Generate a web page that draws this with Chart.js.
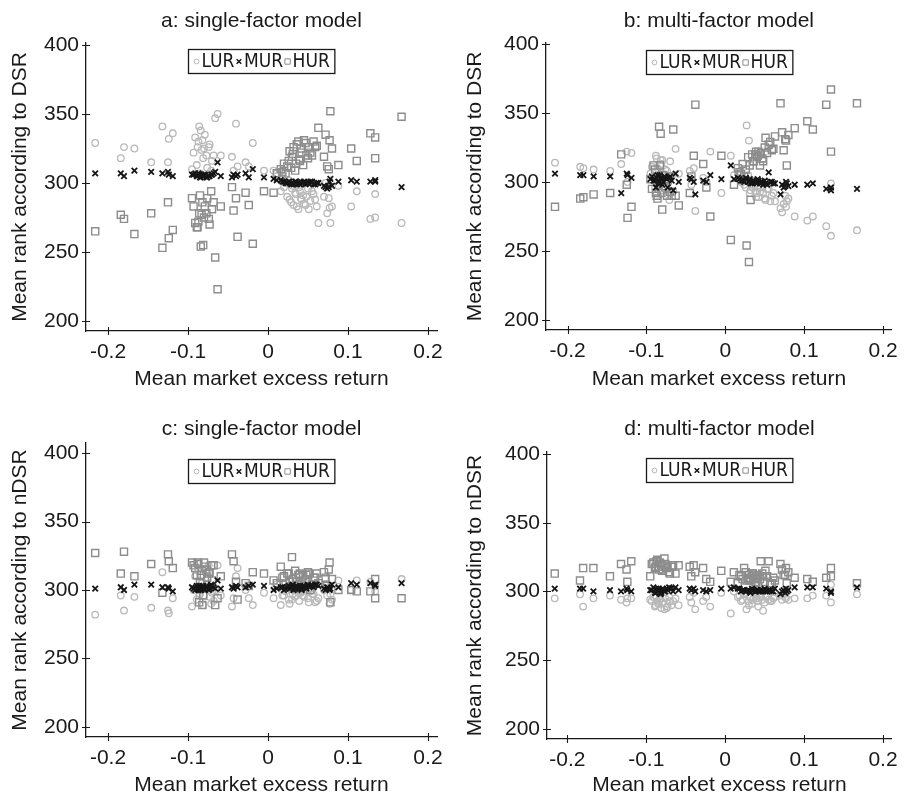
<!DOCTYPE html>
<html>
<head>
<meta charset="utf-8">
<title>Mean rank vs mean market excess return</title>
<script src="https://cdn.jsdelivr.net/npm/chart.js@4.4.1/dist/chart.umd.min.js"></script>
<style>
  body { margin: 0; background: #fff; }
  #figure { position: relative; width: 907px; height: 796px; overflow: hidden; }
  #figure canvas { position: absolute; }
</style>
</head>
<body>
<div id="figure">
  <canvas id="panelA" width="453" height="398" style="left:0;top:0"></canvas>
  <canvas id="panelB" width="454" height="398" style="left:453px;top:0"></canvas>
  <canvas id="panelC" width="453" height="396" style="left:0;top:400px"></canvas>
  <canvas id="panelD" width="454" height="396" style="left:453px;top:400px"></canvas>
</div>
<script>
// Mean market excess return of each period (shared by all four panels)
const xReturn = [
  -0.216, -0.184, -0.180, -0.167, -0.146, -0.132, -0.125, -0.124, -0.119, -0.095,
  -0.091, -0.088, -0.086, -0.084, -0.082, -0.080, -0.077, -0.074, -0.071, -0.068,
  -0.066, -0.063, -0.059, -0.045, -0.043, -0.040, -0.038, -0.028, -0.024, -0.019,
  -0.005, 0.007, 0.011, 0.016, 0.020, 0.024, 0.027, 0.030, 0.032, 0.035,
  0.038, 0.040, 0.042, 0.045, 0.048, 0.051, 0.055, 0.059, 0.063, 0.070,
  0.072, 0.074, 0.077, 0.078, 0.080, 0.088, 0.104, 0.111, 0.128, 0.134,
  0.134, 0.167,
  -0.093, -0.089, -0.087, -0.085, -0.083, -0.081, -0.079, -0.076, -0.073, -0.070,
  0.018, 0.022, 0.026, 0.029, 0.031, 0.034, 0.036, 0.039, 0.041, 0.044,
  0.047, 0.050, 0.053, 0.057, 0.061, 0.076
];

// a: DSR, single-factor model
const lurA = [
  329, 318, 326, 325, 315, 341, 315, 332, 336, 310,
  333, 326, 341, 338, 331, 325, 320, 326, 309, 320,
  347, 350, 320, 319, 309, 343, 312, 315, 312, 329,
  309, 309, 307, 294, 297, 290, 288, 296, 284, 292,
  281, 294, 288, 285, 290, 281, 294, 288, 271, 290,
  300, 278, 282, 271, 283, 298, 283, 294, 274, 275,
  292, 271,
  322, 313, 330, 307, 324, 318, 335, 311, 328, 316,
  305, 300, 302, 286, 298, 293, 283, 297, 289, 291,
  284, 296, 287, 292, 283, 289
];
const murA = [
  307, 307, 305, 309, 308, 307, 308, 306, 305, 306,
  307, 305, 306, 304, 305, 306, 304, 305, 306, 307,
  308, 315, 305, 304, 306, 305, 306, 307, 304, 310,
  304, 303, 302, 302, 301, 300, 301, 300, 299, 301,
  300, 299, 300, 301, 300, 300, 301, 299, 300, 298,
  297, 296, 301, 303, 298, 301, 302, 301, 301, 301,
  302, 297,
  306, 305, 307, 304, 306, 305, 306, 304, 305, 306,
  301, 300, 301, 299, 300, 301, 299, 300, 301, 300,
  299, 300, 301, 299, 300, 297
];
const hurA = [
  265, 277, 274, 263, 278, 253, 286, 260, 266, 289,
  271, 268, 278, 254, 286, 275, 278, 274, 294, 286,
  246, 223, 283, 297, 280, 289, 261, 293, 284, 256,
  294, 293, 307, 310, 314, 312, 323, 319, 326, 314,
  330, 316, 322, 331, 320, 326, 320, 326, 340, 319,
  335, 312, 331, 352, 325, 313, 325, 316, 336, 333,
  318, 348,
  283, 268, 272, 291, 277, 255, 283, 289, 270, 281,
  308, 307, 316, 311, 321, 309, 328, 317, 325, 313,
  329, 318, 322, 330, 327, 310
];

// b: DSR, multi-factor model
const lurB = [
  314, 311, 310, 309, 308, 313, 322, 300, 321, 306,
  303, 319, 310, 300, 316, 316, 302, 308, 287, 304,
  293, 324, 306, 308, 298, 310, 279, 303, 300, 322,
  292, 319, 305, 306, 300, 298, 341, 330, 294, 296,
  293, 292, 289, 296, 292, 287, 295, 290, 286, 281,
  278, 284, 282, 286, 288, 275, 272, 275, 268, 261,
  299, 265,
  311, 296, 317, 305, 298, 313, 294, 309, 300, 315,
  303, 300, 296, 305, 292, 298, 301, 289, 296, 293,
  299, 288, 295, 286, 292, 290
];
const murB = [
  306, 305, 305, 304, 304, 292, 306, 305, 303, 302,
  301, 296, 305, 300, 303, 298, 304, 302, 303, 301,
  294, 306, 300, 303, 302, 300, 291, 301, 300, 305,
  302, 312, 302, 303, 301, 300, 302, 300, 299, 301,
  300, 299, 301, 300, 298, 299, 307, 300, 299, 291,
  298, 296, 300, 299, 297, 298, 298, 299, 295, 296,
  294, 295,
  304, 301, 303, 299, 305, 302, 300, 303, 296, 304,
  302, 301, 303, 300, 302, 299, 301, 300, 302, 299,
  300, 301, 298, 300, 299, 297
];
const hurB = [
  282, 288, 289, 291, 292, 320, 298, 274, 282, 302,
  312, 292, 288, 340, 335, 280, 302, 290, 304, 290,
  338, 290, 283, 292, 304, 319, 356, 313, 296, 275,
  319, 258, 298, 310, 306, 304, 254, 242, 287, 315,
  320, 318, 322, 321, 315, 332, 327, 323, 333, 357,
  336, 323, 330, 312, 334, 339, 344, 338, 356, 367,
  322, 357,
  295, 309, 290, 298, 312, 292, 305, 296, 301, 293,
  307, 313, 309, 318, 312, 320, 315, 322, 319, 312,
  317, 325, 321, 329, 324, 331
];

// c: nDSR, single-factor model
const lurC = [
  282, 296, 285, 295, 287, 313, 285, 283, 294, 288,
  310, 302, 296, 300, 306, 296, 312, 318, 290, 292,
  300, 318, 296, 288, 294, 310, 316, 300, 294, 289,
  298, 294, 304, 289, 296, 302, 290, 293, 300, 296,
  298, 302, 299, 295, 300, 291, 297, 291, 294, 300,
  304, 296, 290, 297, 293, 307, 300, 307, 306, 299,
  303, 308,
  300, 293, 314, 297, 305, 289, 302, 309, 295, 298,
  296, 299, 293, 301, 297, 295, 300, 292, 298, 296,
  301, 294, 299, 297, 292, 302
];
const murC = [
  301, 302, 300, 304, 304, 302, 302, 301, 299, 302,
  300, 301, 303, 300, 302, 301, 303, 300, 304, 302,
  301, 307, 301, 302, 301, 303, 302, 302, 303, 304,
  303, 300, 301, 302, 300, 302, 301, 303, 300, 302,
  301, 303, 300, 302, 301, 303, 303, 304, 303, 301,
  300, 302, 300, 301, 304, 302, 305, 304, 305, 303,
  304, 305,
  301, 303, 300, 302, 301, 303, 300, 302, 301, 303,
  302, 301, 303, 302, 304, 301, 303, 302, 301, 303,
  302, 304, 303, 302, 304, 301
];
const hurC = [
  327, 312, 328, 310, 319, 298, 326, 321, 316, 320,
  316, 320, 291, 311, 289, 320, 315, 312, 318, 318,
  289, 294, 310, 326, 321, 306, 293, 305, 303, 313,
  312, 307, 305, 317, 310, 312, 306, 324, 301, 309,
  311, 312, 306, 303, 311, 312, 304, 309, 305, 313,
  309, 303, 320, 291, 308, 300, 300, 299, 299, 308,
  294, 294,
  318, 311, 319, 305, 314, 296, 317, 309, 313, 307,
  309, 305, 312, 303, 308, 314, 306, 311, 304, 310,
  307, 313, 300, 309, 312, 315
];

// d: nDSR, multi-factor model
const lurD = [
  295, 298, 289, 295, 297, 294, 292, 295, 295, 294,
  296, 290, 293, 291, 295, 292, 287, 288, 296, 290,
  293, 295, 290, 296, 292, 299, 287, 293, 296, 289,
  299, 284, 300, 296, 293, 298, 287, 290, 296, 294,
  298, 295, 289, 297, 286, 296, 294, 293, 296, 297,
  294, 298, 295, 300, 294, 295, 295, 297, 297, 292,
  305, 298,
  293, 289, 296, 291, 294, 288, 292, 295, 289, 293,
  297, 294, 299, 293, 296, 291, 295, 298, 293, 296,
  294, 292, 297, 293, 295, 296
];
const murD = [
  302, 302, 302, 300, 301, 300, 302, 301, 300, 301,
  303, 299, 300, 302, 298, 301, 300, 302, 303, 302,
  300, 303, 301, 302, 301, 302, 300, 301, 300, 301,
  302, 302, 303, 302, 300, 301, 300, 301, 299, 301,
  300, 301, 300, 301, 300, 300, 301, 300, 302, 298,
  300, 301, 302, 300, 301, 303, 303, 303, 302, 300,
  299, 303,
  301, 299, 302, 300, 301, 299, 302, 300, 301, 302,
  302, 301, 300, 301, 300, 302, 301, 300, 301, 300,
  301, 302, 300, 301, 300, 299
];
const hurD = [
  313, 308, 317, 317, 311, 320, 316, 307, 322, 311,
  321, 318, 323, 316, 320, 315, 324, 317, 314, 318,
  319, 313, 319, 318, 311, 319, 314, 317, 309, 307,
  315, 307, 314, 306, 311, 317, 308, 312, 309, 313,
  307, 310, 304, 322, 311, 315, 322, 306, 308, 320,
  316, 312, 317, 306, 314, 310, 309, 307, 310, 317,
  311, 306,
  320, 317, 322, 318, 321, 319, 316, 320, 318, 313,
  312, 309, 314, 310, 308, 313, 311, 306, 312, 309,
  313, 307, 311, 305, 310, 312
];

const seriesNames = ['LUR', 'MUR', 'HUR'];
const xTicks = [-0.2, -0.1, 0, 0.1, 0.2];
const yTicks = [200, 250, 300, 350, 400];
const panelTitles = ['a: single-factor model', 'b: multi-factor model', 'c: single-factor model', 'd: multi-factor model'];
const yTitles = ['Mean rank according to DSR', 'Mean rank according to DSR', 'Mean rank according to nDSR', 'Mean rank according to nDSR'];
const xTitle = 'Mean market excess return';

const FONT = "'Liberation Sans', Arial, Helvetica, sans-serif";
const INK = '#1a1a1a';

// marker look per series: light circles, black crosses, grey squares
const markerStyles = [
  { pointStyle: 'circle', borderColor: '#b9b9b9', radius: 3.3, borderWidth: 1.3, order: 2 },
  { pointStyle: 'crossRot', borderColor: '#161616', radius: 3.9, borderWidth: 1.8, order: 0 },
  { pointStyle: 'rect', borderColor: '#8d8d8d', radius: 5, borderWidth: 1.4, order: 1 }
];

// per-panel geometry (pixel layout only)
const panels = [
  { id: 'panelA', series: [lurA, murA, hurA], yWidth: 86, xHeight: 67, padRight: 16,
    titlePad: { top: 10.7, bottom: 11.3 }, yTitlePad: 10, xTitlePad: 8,
    xMin: -0.2275, xMax: 0.2113, yMin: 192.75, yMax: 401.45, legendTop: 48.7 },
  { id: 'panelB', series: [lurB, murB, hurB], yWidth: 93, xHeight: 68, padRight: 9,
    titlePad: { top: 10.7, bottom: 11.3 }, yTitlePad: 12, xTitlePad: 8.5,
    xMin: -0.2274, xMax: 0.2112, yMin: 192.75, yMax: 400.7, legendTop: 50 },
  { id: 'panelC', series: [lurC, murC, hurC], yWidth: 86, xHeight: 59, padRight: 16,
    titlePad: { top: 19, bottom: 3 }, yTitlePad: 10, xTitlePad: 0,
    xMin: -0.2275, xMax: 0.2113, yMin: 192.7, yMax: 407.3, legendTop: 59 },
  { id: 'panelD', series: [lurD, murD, hurD], yWidth: 94, xHeight: 57, padRight: 9,
    titlePad: { top: 19, bottom: 12 }, yTitlePad: 12, xTitlePad: 0,
    xMin: -0.2258, xMax: 0.2112, yMin: 192.7, yMax: 401.45, legendTop: 58 }
];

// Tick marks that cross the axis line on both sides
const crossTicks = {
  id: 'crossTicks',
  afterDraw(chart) {
    const { ctx, chartArea, scales } = chart;
    ctx.save();
    ctx.strokeStyle = INK;
    ctx.lineWidth = 1.1;
    ctx.beginPath();
    scales.x.ticks.forEach(t => {
      const px = Math.round(scales.x.getPixelForValue(t.value)) + 0.5;
      ctx.moveTo(px, chartArea.bottom - 4);
      ctx.lineTo(px, chartArea.bottom + 4);
    });
    scales.y.ticks.forEach(t => {
      const py = Math.round(scales.y.getPixelForValue(t.value)) + 0.5;
      ctx.moveTo(chartArea.left - 4, py);
      ctx.lineTo(chartArea.left + 4, py);
    });
    ctx.stroke();
    ctx.restore();
  }
};

// Boxed legend centred at the top of the plot area
const boxLegend = {
  id: 'boxLegend',
  afterDraw(chart, args, opts) {
    const { ctx, chartArea } = chart;
    const sets = chart.data.datasets;
    ctx.save();
    ctx.font = "19px 'Liberation Sans Narrow', 'DejaVu Sans Condensed', " + FONT;
    const widths = sets.map(ds => ctx.measureText(ds.label).width);
    let w = 4.5;
    widths.forEach((tw, i) => { w += 8.5 + tw + (i < widths.length - 1 ? 1 : 0); });
    w += 5;
    const h = 24;
    const left = Math.round((chartArea.left + chartArea.right) / 2 - w / 2) + 0.5;
    const top = Math.round(opts.top) + 0.5;
    ctx.fillStyle = '#fff';
    ctx.fillRect(left, top, w, h);
    ctx.strokeStyle = INK;
    ctx.lineWidth = 1.3;
    ctx.strokeRect(left, top, w, h);
    const cy = top + h / 2;
    let pos = left + 4.5;
    sets.forEach((ds, i) => {
      const cx = pos + 3.5;
      ctx.strokeStyle = ds.borderColor;
      ctx.lineWidth = 1;
      ctx.beginPath();
      if (ds.pointStyle === 'circle') {
        ctx.arc(cx, cy, 2.4, 0, Math.PI * 2);
      } else if (ds.pointStyle === 'crossRot') {
        ctx.lineWidth = 1.5;
        ctx.moveTo(cx - 2.3, cy - 2.3); ctx.lineTo(cx + 2.3, cy + 2.3);
        ctx.moveTo(cx + 2.3, cy - 2.3); ctx.lineTo(cx - 2.3, cy + 2.3);
      } else {
        ctx.rect(cx - 2.7, cy - 2.7, 5.4, 5.4);
      }
      ctx.stroke();
      ctx.fillStyle = INK;
      ctx.textBaseline = 'middle';
      ctx.fillText(ds.label, pos + 8.5, cy + 1);
      pos += 8.5 + widths[i] + 1;
    });
    ctx.restore();
  }
};

function buildChart(p, idx) {
  const datasets = seriesNames.map((name, s) => ({
    label: name,
    data: xReturn.map((x, i) => ({ x: x, y: p.series[s][i] })),
    showLine: false,
    pointStyle: markerStyles[s].pointStyle,
    borderColor: markerStyles[s].borderColor,
    backgroundColor: 'rgba(0,0,0,0)',
    pointRadius: markerStyles[s].radius,
    pointBorderWidth: markerStyles[s].borderWidth,
    order: markerStyles[s].order
  }));

  new Chart(document.getElementById(p.id), {
    type: 'scatter',
    data: { datasets: datasets },
    options: {
      responsive: false,
      animation: false,
      events: [],
      layout: { padding: { left: 0, top: 0, right: p.padRight, bottom: 0 } },
      plugins: {
        legend: { display: false },
        tooltip: { enabled: false },
        title: {
          display: true,
          text: panelTitles[idx],
          fullSize: false,
          color: INK,
          font: { family: FONT, size: 21, weight: 'normal', lineHeight: 1 },
          padding: p.titlePad
        },
        boxLegend: { top: p.legendTop }
      },
      scales: {
        x: {
          type: 'linear',
          min: p.xMin,
          max: p.xMax,
          afterBuildTicks: s => { s.ticks = xTicks.map(v => ({ value: v })); },
          afterFit: s => { s.height = p.xHeight; },
          grid: { display: false, drawTicks: false },
          border: { display: true, color: INK, width: 1.3 },
          ticks: {
            padding: 9,
            color: INK,
            font: { family: FONT, size: 21 },
            callback: v => (v === 0 ? '0' : v.toFixed(1))
          },
          title: {
            display: true,
            text: xTitle,
            color: INK,
            font: { family: FONT, size: 21, lineHeight: 1 },
            padding: { top: 0, bottom: p.xTitlePad }
          }
        },
        y: {
          type: 'linear',
          min: p.yMin,
          max: p.yMax,
          afterBuildTicks: s => { s.ticks = yTicks.map(v => ({ value: v })); },
          afterFit: s => { s.width = p.yWidth; },
          grid: { display: false, drawTicks: false },
          border: { display: true, color: INK, width: 1.3 },
          ticks: {
            padding: 7,
            color: INK,
            font: { family: FONT, size: 21 },
            callback: v => String(v)
          },
          title: {
            display: true,
            text: yTitles[idx],
            color: INK,
            font: { family: FONT, size: 21, lineHeight: 1 },
            padding: { top: p.yTitlePad, bottom: 0 }
          }
        }
      }
    },
    plugins: [crossTicks, boxLegend]
  });
}

panels.forEach(buildChart);
</script>
</body>
</html>
